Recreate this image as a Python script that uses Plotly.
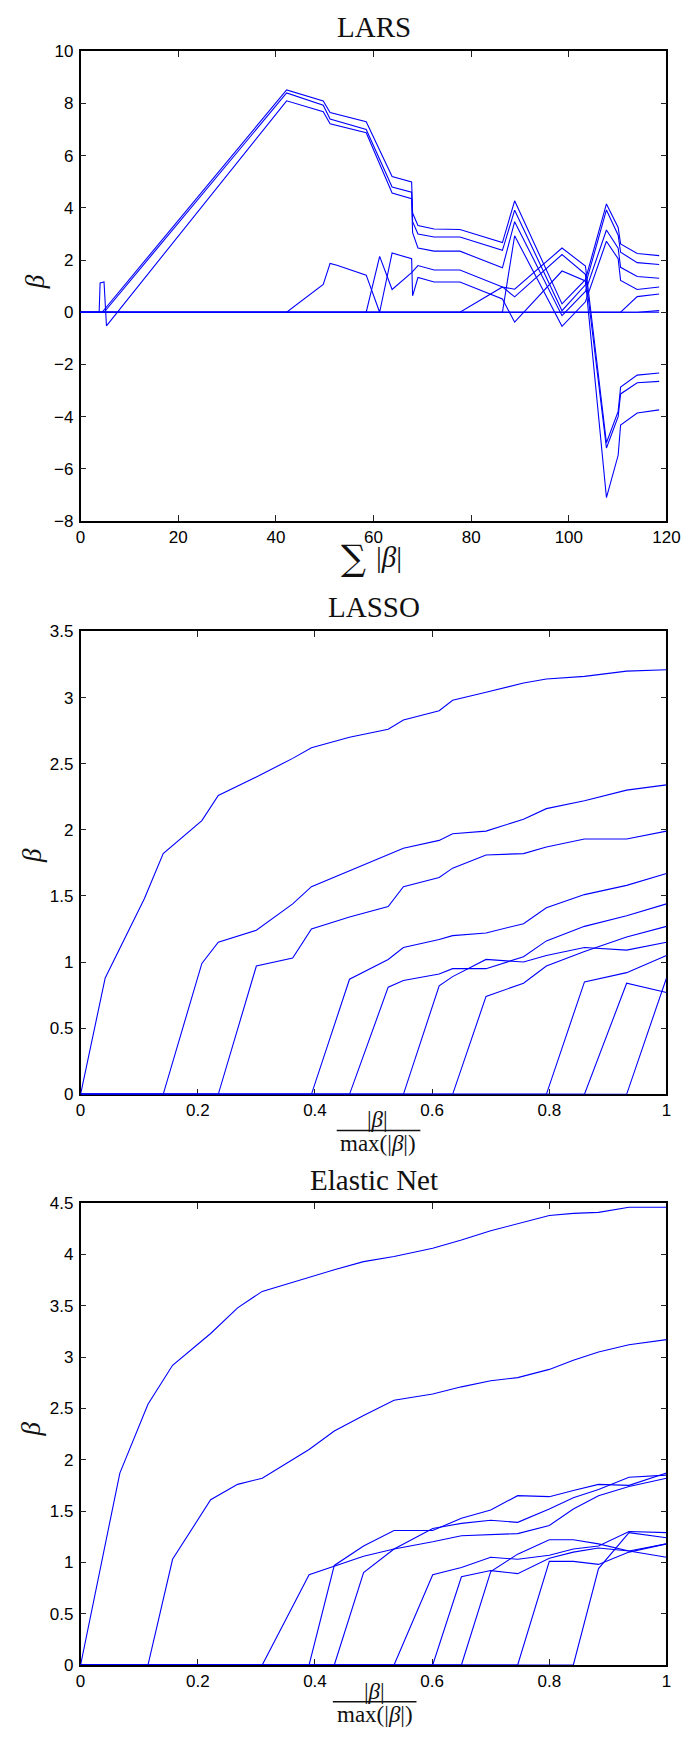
import plotly.graph_objects as go

W, H = 698, 1739

# ---------------- LARS data (sum|beta| breakpoints, beta values) ----------------
LARS_A_X = [0, 4.4, 42.2, 49.7, 51.1, 58.5, 63.8, 67.8, 68.0, 69.1, 72.4, 77.7, 86.4, 88.9, 98.6, 103.4, 107.7, 110.1, 110.6, 114.0, 118.5]
LARS_A_Y = [0, 0, 8.52, 8.09, 7.65, 7.30, 5.20, 4.99, 3.80, 3.32, 3.19, 3.17, 2.67, 4.27, 0.32, 1.25, 4.15, 3.25, 2.62, 2.25, 2.17]
LARS_B_X = [0, 4.8, 42.2, 49.7, 51.1, 58.5, 63.8, 67.8, 68.0, 69.1, 72.4, 77.7, 86.4, 88.9, 98.6, 103.4, 107.7, 110.1, 110.6, 114.0, 118.5]
LARS_B_Y = [0, 0, 8.40, 7.93, 7.40, 7.00, 4.80, 4.60, 3.47, 3.00, 2.88, 2.88, 2.37, 3.91, 0.06, 1.05, 3.92, 2.95, 2.30, 1.90, 1.83]
LARS_C_X = [0, 3.8, 4.0, 4.8, 5.3, 42.2, 49.7, 51.1, 58.5, 63.8, 67.8, 68.0, 69.1, 72.4, 77.7, 86.4, 88.9, 98.6, 103.4, 107.7, 110.1, 110.6, 114.0, 118.5]
LARS_C_Y = [0, 0, 1.12, 1.16, -0.52, 8.10, 7.68, 7.22, 6.88, 4.57, 4.35, 3.05, 2.46, 2.34, 2.34, 1.70, 3.47, -0.13, 0.80, 3.15, 2.45, 1.72, 1.37, 1.30]
LARS_D_X = [0, 86.4, 88.9, 98.6, 103.4, 107.7, 110.1, 110.6, 114.0, 118.5]
LARS_D_Y = [0, 0, 2.93, -0.54, 0.40, 2.72, 2.05, 1.22, 0.87, 0.97]
LARS_E_X = [0, 42.2, 49.7, 51.1, 52.5, 58.5, 61.25, 63.8, 67.8, 68.0, 69.1, 72.4, 77.7, 86.4, 88.9, 98.6, 103.4, 107.7, 110.1, 110.6, 114.0, 118.5]
LARS_E_Y = [0, 0, 1.07, 1.87, 1.80, 1.42, 0, 2.27, 2.05, 0.63, 1.33, 1.16, 1.16, 0.51, -0.38, 1.58, 1.20, -7.10, -5.48, -4.32, -3.86, -3.74]
LARS_F_X = [0, 58.5, 61.25, 63.8, 67.8, 69.1, 72.4, 77.7, 86.4, 88.9, 98.6, 103.4, 107.7, 110.1, 110.6, 114.0, 118.5]
LARS_F_Y = [0, 0, 2.14, 0.87, 1.52, 1.79, 1.62, 1.62, 0.97, 0.88, 2.46, 1.77, -5.00, -3.80, -2.87, -2.41, -2.33]
LARS_G_X = [0, 77.7, 86.4, 88.9, 98.6, 103.4, 107.7, 110.1, 110.6, 114.0, 118.5]
LARS_G_Y = [0, 0, 0.97, 0.59, 2.21, 1.45, -5.20, -4.00, -3.13, -2.70, -2.65]
LARS_H_X = [0, 110.6, 114.0, 118.5]
LARS_H_Y = [0, 0, 0.60, 0.70]
LARS_I_X = [0, 114.0, 118.5]
LARS_I_Y = [0, 0, 0.06]
LARS_Z_X = [0, 118.5]
LARS_Z_Y = [0, 0]

# ---------------- LASSO data ----------------
LASSO_X = [0, 0.042, 0.109, 0.141, 0.207, 0.235, 0.300, 0.362, 0.394, 0.459, 0.525, 0.551, 0.612, 0.635, 0.692, 0.756, 0.795, 0.860, 0.932, 1.0]
LASSO_1 = [0, 0.88, 1.48, 1.82, 2.07, 2.26, 2.40, 2.54, 2.62, 2.70, 2.76, 2.83, 2.90, 2.98, 3.04, 3.11, 3.14, 3.16, 3.20, 3.21]
LASSO_2 = [0, 0, 0, 0, 0.99, 1.15, 1.24, 1.44, 1.57, 1.69, 1.81, 1.86, 1.92, 1.97, 1.99, 2.08, 2.16, 2.22, 2.30, 2.34]
LASSO_3 = [0, 0, 0, 0, 0, 0, 0.97, 1.03, 1.25, 1.34, 1.42, 1.57, 1.64, 1.71, 1.81, 1.82, 1.87, 1.93, 1.93, 1.99]
LASSO_4 = [0, 0, 0, 0, 0, 0, 0, 0, 0, 0.87, 1.02, 1.11, 1.17, 1.20, 1.22, 1.29, 1.41, 1.51, 1.58, 1.67]
LASSO_5 = [0, 0, 0, 0, 0, 0, 0, 0, 0, 0, 0.81, 0.86, 0.91, 0.95, 0.95, 1.04, 1.16, 1.27, 1.35, 1.44]
LASSO_6 = [0, 0, 0, 0, 0, 0, 0, 0, 0, 0, 0, 0, 0.82, 0.89, 1.02, 1.00, 1.05, 1.11, 1.09, 1.15]
LASSO_7 = [0, 0, 0, 0, 0, 0, 0, 0, 0, 0, 0, 0, 0, 0, 0.74, 0.84, 0.97, 1.08, 1.19, 1.27]
LASSO_8 = [0, 0, 0, 0, 0, 0, 0, 0, 0, 0, 0, 0, 0, 0, 0, 0, 0, 0.85, 0.92, 1.05]
LASSO_9 = [0, 0, 0, 0, 0, 0, 0, 0, 0, 0, 0, 0, 0, 0, 0, 0, 0, 0, 0.84, 0.77]
LASSO_10 = [0, 0, 0, 0, 0, 0, 0, 0, 0, 0, 0, 0, 0, 0, 0, 0, 0, 0, 0, 0.88]

# ---------------- Elastic Net data ----------------
EN_X = [0, 0.067, 0.115, 0.157, 0.222, 0.268, 0.310, 0.390, 0.433, 0.483, 0.535, 0.601, 0.650, 0.700, 0.746, 0.800, 0.841, 0.884, 0.936, 1.0]
EN_1 = [0, 1.87, 2.54, 2.92, 3.23, 3.48, 3.64, 3.78, 3.85, 3.93, 3.98, 4.06, 4.14, 4.23, 4.30, 4.38, 4.40, 4.41, 4.46, 4.46]
EN_2 = [0, 0, 0, 1.03, 1.61, 1.76, 1.82, 2.10, 2.28, 2.43, 2.58, 2.64, 2.71, 2.77, 2.80, 2.88, 2.97, 3.05, 3.12, 3.17]
EN_3 = [0, 0, 0, 0, 0, 0, 0, 0.88, 0.96, 1.06, 1.13, 1.20, 1.26, 1.27, 1.28, 1.36, 1.52, 1.65, 1.74, 1.82]
EN_4 = [0, 0, 0, 0, 0, 0, 0, 0, 0.97, 1.16, 1.31, 1.31, 1.43, 1.51, 1.65, 1.64, 1.70, 1.76, 1.75, 1.87]
EN_5 = [0, 0, 0, 0, 0, 0, 0, 0, 0, 0.90, 1.13, 1.33, 1.38, 1.41, 1.39, 1.52, 1.63, 1.71, 1.83, 1.85]
EN_6 = [0, 0, 0, 0, 0, 0, 0, 0, 0, 0, 0, 0.88, 0.95, 1.05, 1.03, 1.07, 1.13, 1.16, 1.30, 1.29]
EN_7 = [0, 0, 0, 0, 0, 0, 0, 0, 0, 0, 0, 0, 0.86, 0.92, 0.89, 1.04, 1.10, 1.14, 1.11, 1.18]
EN_8 = [0, 0, 0, 0, 0, 0, 0, 0, 0, 0, 0, 0, 0, 0.91, 1.08, 1.22, 1.22, 1.18, 1.11, 1.05]
EN_9 = [0, 0, 0, 0, 0, 0, 0, 0, 0, 0, 0, 0, 0, 0, 0, 1.01, 1.01, 0.98, 1.10, 1.18]
EN_10 = [0, 0, 0, 0, 0, 0, 0, 0, 0, 0, 0, 0, 0, 0, 0, 0, 0, 0.94, 1.29, 1.24]

TITLES = ["LARS", "LASSO", "Elastic Net"]

LINE = dict(color="rgb(0,0,255)", width=1.1)

fig = go.Figure()

lars_paths = [(LARS_Z_X, LARS_Z_Y), (LARS_A_X, LARS_A_Y), (LARS_B_X, LARS_B_Y), (LARS_C_X, LARS_C_Y),
              (LARS_D_X, LARS_D_Y), (LARS_E_X, LARS_E_Y), (LARS_F_X, LARS_F_Y), (LARS_G_X, LARS_G_Y),
              (LARS_H_X, LARS_H_Y), (LARS_I_X, LARS_I_Y)]
for xs, ys in lars_paths:
    fig.add_trace(go.Scatter(x=xs, y=ys, mode="lines", line=LINE, xaxis="x", yaxis="y",
                             showlegend=False, hoverinfo="skip"))

for ys in [LASSO_1, LASSO_2, LASSO_3, LASSO_4, LASSO_5, LASSO_6, LASSO_7, LASSO_8, LASSO_9, LASSO_10]:
    fig.add_trace(go.Scatter(x=LASSO_X, y=ys, mode="lines", line=LINE, xaxis="x2", yaxis="y2",
                             showlegend=False, hoverinfo="skip"))

for ys in [EN_1, EN_2, EN_3, EN_4, EN_5, EN_6, EN_7, EN_8, EN_9, EN_10]:
    fig.add_trace(go.Scatter(x=EN_X, y=ys, mode="lines", line=LINE, xaxis="x3", yaxis="y3",
                             showlegend=False, hoverinfo="skip"))


def px_x(p):
    return p / W


def px_y(p):
    return 1 - p / H


common = dict(showline=True, linecolor="black", linewidth=1.5, mirror="ticks", ticks="inside",
              ticklen=6, tickcolor="#222", tickwidth=1, showgrid=False, zeroline=False,
              tickfont=dict(family="Liberation Sans, Arial, sans-serif", size=17, color="black"),
              layer="below traces")

XD = [px_x(77.7), px_x(680)]
panels = [(42.7, 517.7), (629.3, 1097.3), (1207.3, 1674.3)]

fig.update_layout(
    width=W, height=H, margin=dict(l=0, r=0, t=0, b=0),
    paper_bgcolor="white", plot_bgcolor="white", showlegend=False,
    xaxis=dict(domain=XD, range=[0, 120], dtick=20, tick0=0, anchor="y", **common),
    yaxis=dict(domain=[px_y(panels[0][1]), px_y(panels[0][0])], range=[-8, 10], dtick=2, tick0=0,
               anchor="x", ticklabelstandoff=2, **common),
    xaxis2=dict(domain=XD, range=[0, 1], dtick=0.2, tick0=0, anchor="y2", **common),
    yaxis2=dict(domain=[px_y(panels[1][1]), px_y(panels[1][0])], range=[0, 3.5], dtick=0.5, tick0=0,
                anchor="x2", ticklabelstandoff=2, **common),
    xaxis3=dict(domain=XD, range=[0, 1], dtick=0.2, tick0=0, anchor="y3", **common),
    yaxis3=dict(domain=[px_y(panels[2][1]), px_y(panels[2][0])], range=[0, 4.5], dtick=0.5, tick0=0,
                anchor="x3", ticklabelstandoff=2, **common),
)

SERIF = "Liberation Serif, Times New Roman, serif"
ann = []
title_y = [18.5, 605, 1184]
for t, ty in zip(TITLES, title_y):
    ann.append(dict(text=t, x=px_x(379), y=px_y(ty), xref="paper", yref="paper", xanchor="center",
                    yanchor="middle", showarrow=False, font=dict(family=SERIF, size=29, color="#111")))
# y labels (beta)
for cy, cx in zip([276, 856, 1436], [31, 27, 27]):
    ann.append(dict(text="<i>β</i>", x=px_x(cx), y=px_y(cy), xref="paper", yref="paper", xanchor="center",
                    yanchor="middle", textangle=-90, showarrow=False, font=dict(family=SERIF, size=27, color="#111")))
# LARS x label
ann.append(dict(text="∑", x=px_x(358), y=px_y(555), xref="paper", yref="paper", xanchor="center",
                yanchor="middle", showarrow=False, font=dict(family="DejaVu Serif, serif", size=35, color="#111")))
ann.append(dict(text="|<i>β</i>|", x=px_x(395), y=px_y(554), xref="paper", yref="paper", xanchor="center",
                yanchor="middle", showarrow=False, font=dict(family=SERIF, size=29, color="#111")))
# fraction labels
for num_y, den_y, cx in [(1123, 1147, 383), (1701, 1724, 380)]:
    ann.append(dict(text="|<i>β</i>|", x=px_x(cx), y=px_y(num_y), xref="paper", yref="paper", xanchor="center",
                    yanchor="middle", showarrow=False, font=dict(family=SERIF, size=23, color="#111")))
    ann.append(dict(text="max(|<i>β</i>|)", x=px_x(cx), y=px_y(den_y), xref="paper", yref="paper",
                    xanchor="center", yanchor="middle", showarrow=False,
                    font=dict(family=SERIF, size=23, color="#111")))
fig.update_layout(annotations=ann)

shapes = []
for ly, x0, x1 in [(1134, 341, 427), (1711.5, 337, 423)]:
    shapes.append(dict(type="line", xref="paper", yref="paper", x0=px_x(x0), x1=px_x(x1),
                       y0=px_y(ly), y1=px_y(ly), line=dict(color="#111", width=1.5)))
fig.update_layout(shapes=shapes)

fig.write_html("out.html")
